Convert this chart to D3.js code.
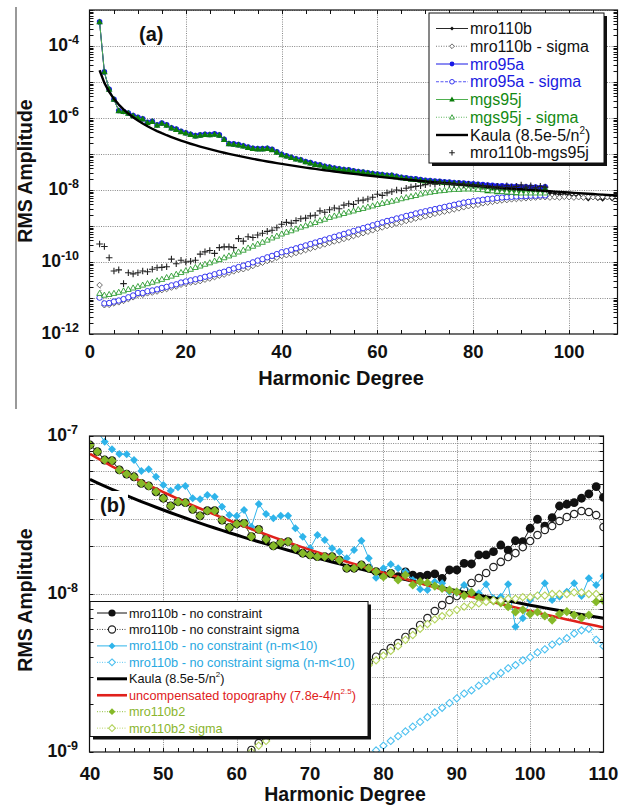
<!DOCTYPE html>
<html>
<head>
<meta charset="utf-8">
<script src="https://cdn.jsdelivr.net/npm/d3@7"></script>
<style>
  body { margin: 0; background: #fff; }
  svg { display: block; }
  text { font-family: "Liberation Sans", Arial, Helvetica, sans-serif; }
</style>
</head>
<body>
<svg id="chart" width="629" height="807"></svg>
<script>
// ---------------------------------------------------------------
// Gravity field degree spectra (RMS amplitude per harmonic degree)
// All series values are log10 of the RMS amplitude.
// ---------------------------------------------------------------

// Panel (a): degrees 2 .. 110
const aStart = 2;
const mro110b = [
  -3.34,-4.73,-5.21,-5.49,-5.80,-5.83,-5.87,-5.94,-5.99,-6.03,
  -6.13,-6.10,-6.20,-6.15,-6.20,-6.28,-6.32,-6.38,-6.42,-6.46,
  -6.50,-6.48,-6.46,-6.47,-6.45,-6.48,-6.60,-6.72,-6.73,-6.75,
  -6.78,-6.82,-6.85,-6.86,-6.86,-6.85,-6.88,-6.95,-7.02,-7.06,
  -7.10,-7.14,-7.17,-7.22,-7.25,-7.29,-7.31,-7.35,-7.37,-7.40,
  -7.42,-7.44,-7.45,-7.48,-7.50,-7.51,-7.53,-7.55,-7.57,-7.58,
  -7.60,-7.60,-7.63,-7.66,-7.68,-7.70,-7.71,-7.73,-7.75,-7.76,
  -7.77,-7.78,-7.79,-7.80,-7.81,-7.82,-7.83,-7.84,-7.86,-7.86,
  -7.89,-7.95,-7.93,-7.99,-7.96,-8.01,-7.98,-8.03,-8.00,-7.98,
  -8.03,-7.99,-8.02,-7.97,-8.08,-8.10,-8.12,-8.11,-8.14,-8.17,
  -8.15,-8.22,-8.25,-8.19,-8.24,-8.26,-8.21,-8.25,-8.20
];
const mro110bSigma = [
  -10.64,-11.20,-11.19,-11.15,-11.12,-11.08,-11.03,-10.98,-10.91,-10.91,
  -10.87,-10.85,-10.82,-10.78,-10.75,-10.71,-10.68,-10.63,-10.60,-10.57,
  -10.56,-10.53,-10.49,-10.46,-10.42,-10.38,-10.35,-10.30,-10.26,-10.22,
  -10.20,-10.16,-10.11,-10.06,-10.02,-9.97,-9.93,-9.88,-9.83,-9.81,
  -9.79,-9.75,-9.71,-9.67,-9.63,-9.59,-9.55,-9.51,-9.47,-9.43,
  -9.40,-9.36,-9.32,-9.28,-9.24,-9.20,-9.16,-9.12,-9.08,-9.04,
  -9.00,-8.97,-8.93,-8.90,-8.86,-8.83,-8.79,-8.76,-8.73,-8.70,
  -8.66,-8.63,-8.60,-8.57,-8.54,-8.51,-8.48,-8.45,-8.43,-8.41,
  -8.37,-8.35,-8.33,-8.31,-8.29,-8.28,-8.26,-8.25,-8.24,-8.23,
  -8.22,-8.21,-8.20,-8.20,-8.21,-8.20,-8.21,-8.19,-8.20,-8.21,
  -8.20,-8.21,-8.19,-8.20,-8.21,-8.19,-8.20,-8.21,-8.18
];
const mro95a = [
  -3.33,-4.72,-5.20,-5.48,-5.79,-5.82,-5.86,-5.93,-5.98,-6.02,
  -6.12,-6.09,-6.19,-6.14,-6.19,-6.27,-6.31,-6.37,-6.41,-6.45,
  -6.49,-6.47,-6.45,-6.46,-6.44,-6.47,-6.59,-6.71,-6.72,-6.74,
  -6.77,-6.81,-6.84,-6.85,-6.85,-6.84,-6.87,-6.94,-7.01,-7.05,
  -7.09,-7.13,-7.16,-7.21,-7.24,-7.28,-7.30,-7.34,-7.36,-7.39,
  -7.41,-7.43,-7.44,-7.47,-7.49,-7.50,-7.52,-7.54,-7.56,-7.57,
  -7.59,-7.59,-7.62,-7.65,-7.66,-7.68,-7.69,-7.71,-7.73,-7.74,
  -7.75,-7.76,-7.77,-7.78,-7.79,-7.80,-7.81,-7.82,-7.83,-7.84,
  -7.85,-7.86,-7.87,-7.88,-7.88,-7.89,-7.90,-7.90,-7.91,-7.91,
  -7.92,-7.92,-7.93,-7.91
];
const mro95aSigma = [
  -10.99,-11.15,-11.14,-11.10,-11.07,-11.03,-10.98,-10.93,-10.86,-10.86,
  -10.81,-10.79,-10.76,-10.72,-10.69,-10.65,-10.62,-10.57,-10.54,-10.51,
  -10.48,-10.45,-10.41,-10.38,-10.34,-10.30,-10.27,-10.22,-10.18,-10.14,
  -10.10,-10.06,-10.01,-9.96,-9.92,-9.87,-9.83,-9.78,-9.73,-9.70,
  -9.66,-9.62,-9.58,-9.54,-9.50,-9.46,-9.42,-9.38,-9.34,-9.30,
  -9.26,-9.22,-9.18,-9.14,-9.10,-9.06,-9.02,-8.98,-8.94,-8.90,
  -8.86,-8.83,-8.79,-8.76,-8.72,-8.69,-8.65,-8.62,-8.59,-8.56,
  -8.53,-8.50,-8.47,-8.44,-8.41,-8.38,-8.35,-8.33,-8.31,-8.29,
  -8.27,-8.25,-8.24,-8.22,-8.21,-8.20,-8.19,-8.18,-8.17,-8.17,
  -8.16,-8.16,-8.15,-8.15
];
const mgs95j = [
  -3.33,-4.72,-5.20,-5.48,-5.80,-5.82,-5.87,-5.94,-5.99,-6.03,
  -6.13,-6.10,-6.20,-6.15,-6.20,-6.28,-6.32,-6.38,-6.42,-6.46,
  -6.50,-6.48,-6.46,-6.47,-6.45,-6.48,-6.60,-6.72,-6.73,-6.75,
  -6.78,-6.82,-6.85,-6.86,-6.86,-6.85,-6.88,-6.95,-7.02,-7.06,
  -7.10,-7.14,-7.17,-7.22,-7.25,-7.29,-7.31,-7.35,-7.37,-7.40,
  -7.42,-7.44,-7.45,-7.48,-7.50,-7.51,-7.53,-7.55,-7.57,-7.58,
  -7.60,-7.60,-7.63,-7.66,-7.68,-7.70,-7.71,-7.73,-7.75,-7.76,
  -7.77,-7.78,-7.79,-7.80,-7.81,-7.82,-7.83,-7.84,-7.86,-7.86,
  -7.90,-8.02,-7.95,-8.05,-7.98,-8.06,-8.00,-8.08,-8.02,-7.98,
  -8.07,-7.99,-8.05,-7.96
];
const mgs95jSigma = [
  -10.87,-10.92,-10.90,-10.87,-10.84,-10.80,-10.76,-10.72,-10.68,-10.64,
  -10.60,-10.56,-10.52,-10.48,-10.43,-10.39,-10.34,-10.29,-10.24,-10.20,
  -10.15,-10.11,-10.06,-10.02,-9.97,-9.93,-9.88,-9.83,-9.78,-9.72,
  -9.67,-9.61,-9.56,-9.50,-9.45,-9.39,-9.33,-9.28,-9.22,-9.17,
  -9.13,-9.08,-9.03,-8.99,-8.94,-8.90,-8.85,-8.81,-8.76,-8.72,
  -8.69,-8.65,-8.61,-8.58,-8.54,-8.51,-8.47,-8.44,-8.40,-8.37,
  -8.34,-8.31,-8.28,-8.24,-8.21,-8.18,-8.15,-8.11,-8.08,-8.06,
  -8.04,-8.02,-8.01,-7.99,-7.98,-7.98,-7.97,-7.97,-7.97,-7.98,
  -7.99,-8.00,-8.02,-8.03,-8.04,-8.05,-8.06,-8.07,-8.08,-8.08,
  -8.08,-8.08,-8.08,-8.08
];
const mro110bMinusMgs95j = [
  -9.50,-9.57,-9.88,-10.25,-10.22,-10.60,-10.30,-10.33,-10.30,-10.25,
  -10.27,-10.20,-10.16,-10.15,-10.13,-9.92,-10.05,-9.95,-10.00,-9.98,
  -9.95,-9.78,-9.72,-9.68,-9.76,-9.60,-9.58,-9.58,-9.60,-9.35,
  -9.42,-9.30,-9.32,-9.25,-9.20,-9.15,-9.12,-9.05,-8.95,-8.90,
  -8.92,-8.85,-8.80,-8.78,-8.72,-8.70,-8.58,-8.62,-8.55,-8.50,
  -8.52,-8.42,-8.38,-8.40,-8.30,-8.28,-8.25,-8.20,-8.12,-8.15,
  -8.08,-8.05,-8.00,-8.02,-7.95,-7.92,-7.90,-7.88,-7.85,-7.82,
  -7.84,-7.80,-7.82,-7.83,-7.85,-7.82,-7.86,-7.84,-7.88,-7.86,
  -7.90,-7.88,-7.92,-7.90,-7.93,-7.88,-7.92,-7.90,-7.86,-7.92,
  -7.88,-7.94,-7.90,-7.92
];

// Panel (b): degrees 40 .. 110
const bStart = 40;
const noConstraint = [
  -7.057,-7.099,-7.152,-7.156,-7.215,-7.241,-7.258,-7.300,-7.316,-7.353,
  -7.394,-7.443,-7.416,-7.422,-7.464,-7.506,-7.473,-7.473,-7.532,-7.578,
  -7.557,-7.553,-7.637,-7.591,-7.654,-7.696,-7.675,-7.669,-7.711,-7.742,
  -7.753,-7.764,-7.764,-7.764,-7.785,-7.837,-7.837,-7.816,-7.837,-7.859,
  -7.880,-7.870,-7.890,-7.860,-7.880,-7.889,-7.880,-7.873,-7.901,-7.848,
  -7.848,-7.806,-7.810,-7.753,-7.753,-7.732,-7.690,-7.722,-7.663,-7.669,
  -7.584,-7.527,-7.570,-7.517,-7.443,-7.432,-7.422,-7.394,-7.367,-7.321,
  -7.388
];
const noConstraintSigmaStart = 62;
const noConstraintSigma = [
  -8.987,-8.943,-8.91,-8.87,-8.84,-8.80,-8.77,-8.73,-8.70,-8.66,
  -8.63,-8.59,-8.56,-8.52,-8.49,-8.46,-8.43,-8.397,-8.373,-8.342,
  -8.31,-8.272,-8.241,-8.196,-8.152,-8.108,-8.07,-8.038,-8.013,-7.975,
  -7.93,-7.899,-7.867,-7.829,-7.797,-7.766,-7.741,-7.703,-7.665,-7.627,
  -7.595,-7.57,-7.538,-7.513,-7.494,-7.475,-7.481,-7.50,-7.576
];
const lowOrderStart = 41;
const noConstraintLowOrder = [
  -6.97,-7.036,-7.084,-7.114,-7.116,-7.152,-7.222,-7.211,-7.258,-7.310,
  -7.346,-7.325,-7.316,-7.394,-7.40,-7.373,-7.384,-7.447,-7.500,-7.506,
  -7.468,-7.574,-7.430,-7.494,-7.521,-7.504,-7.504,-7.584,-7.637,-7.711,
  -7.627,-7.658,-7.711,-7.732,-7.774,-7.722,-7.663,-7.774,-7.897,-7.837,
  -7.812,-7.837,-7.859,-7.911,-7.970,-7.975,-7.922,-7.932,-7.985,-7.992,
  -7.943,-7.985,-7.996,-7.939,-8.027,-8.017,-7.939,-8.207,-8.154,-8.038,
  -8.013,-7.932,-8.038,-8.017,-7.985,-7.932,-8.013,-7.901,-7.943,-7.886
];
const lowOrderSigmaStart = 79;
const noConstraintLowOrderSigma = [
  -8.99,-8.96,-8.93,-8.90,-8.87,-8.84,-8.81,-8.78,-8.75,-8.72,
  -8.69,-8.66,-8.63,-8.61,-8.58,-8.55,-8.52,-8.50,-8.47,-8.45,
  -8.42,-8.40,-8.37,-8.35,-8.32,-8.30,-8.28,-8.25,-8.23,-8.22,
  -8.29,-8.33
];
const mro110b2 = [
  -7.057,-7.099,-7.152,-7.156,-7.215,-7.241,-7.258,-7.300,-7.316,-7.353,
  -7.394,-7.443,-7.416,-7.422,-7.464,-7.506,-7.473,-7.473,-7.532,-7.578,
  -7.557,-7.553,-7.637,-7.591,-7.654,-7.696,-7.675,-7.669,-7.711,-7.742,
  -7.753,-7.764,-7.764,-7.764,-7.785,-7.837,-7.837,-7.816,-7.837,-7.859,
  -7.891,-7.869,-7.911,-7.880,-7.943,-7.922,-7.930,-7.950,-7.964,-7.975,
  -7.987,-8.010,-7.990,-8.025,-8.038,-8.044,-8.057,-8.080,-8.114,-8.100,
  -8.127,-8.114,-8.139,-8.165,-8.127,-8.112,-8.133,-8.152,-8.133,-8.049,
  -8.043
];
const mro110b2SigmaStart = 62;
const mro110b2Sigma = [
  -9.00,-8.96,-8.93,-8.89,-8.86,-8.82,-8.79,-8.75,-8.72,-8.68,
  -8.65,-8.61,-8.58,-8.54,-8.51,-8.48,-8.45,-8.42,-8.39,-8.36,
  -8.33,-8.29,-8.26,-8.22,-8.19,-8.16,-8.14,-8.12,-8.10,-8.08,
  -8.07,-8.06,-8.05,-8.04,-8.04,-8.03,-8.03,-8.02,-8.02,-8.01,
  -8.01,-8.00,-8.00,-8.00,-7.99,-7.99,-8.00,-8.00,-8.01
];

// Reference power laws, with the coefficients given in the legends
const kaula = { coef: 8.5e-5, power: 2 };
const topography = { coef: 7.8e-4, power: 2.5 };

// Axis ticks
const aXTicks = [0, 20, 40, 60, 80, 100];
const aYLabelExps = [-12, -10, -8, -6, -4];
const bXTicks = [40, 50, 60, 70, 80, 90, 100, 110];
const bYLabelExps = [-9, -8, -7];

// ---------------------------------------------------------------
const svg = d3.select("#chart");

const toPoints = (start, logs) => logs.map((v, i) => ({ n: start + i, v: Math.pow(10, v) }));
const powerLaw = (law, n0, n1) => d3.range(n0, n1 + 1).map(n => ({ n, v: law.coef / Math.pow(n, law.power) }));

function markerPath(type, r) {
  switch (type) {
    case "circle": return d3.symbol(d3.symbolCircle, Math.PI * r * r)();
    case "diamond": return `M0,${-r}L${r},0L0,${r}L${-r},0Z`;
    case "triangle": return `M0,${-r}L${r * 0.95},${r * 0.7}L${-r * 0.95},${r * 0.7}Z`;
    case "plus": return `M${-r},0H${r}M0,${-r}V${r}`;
  }
  return "";
}

function drawSeries(g, x, y, pts, s) {
  if (s.line) {
    const line = d3.line().x(d => x(d.n)).y(d => y(d.v));
    g.append("path").datum(pts)
      .attr("d", line)
      .attr("fill", "none")
      .attr("stroke", s.line.color)
      .attr("stroke-width", s.line.width)
      .attr("stroke-dasharray", s.line.dash || null)
      .attr("stroke-linejoin", "round");
  }
  if (s.marker) {
    const p = markerPath(s.marker.type, s.marker.r);
    g.append("g").selectAll("path").data(pts).join("path")
      .attr("transform", d => `translate(${x(d.n)},${y(d.v)})`)
      .attr("d", p)
      .attr("fill", s.marker.fill)
      .attr("stroke", s.marker.stroke || "none")
      .attr("stroke-width", s.marker.sw || 1);
  }
}

function legendSample(g, x0, x1, yc, s) {
  if (s.line) {
    g.append("line").attr("x1", x0).attr("x2", x1).attr("y1", yc).attr("y2", yc)
      .attr("stroke", s.line.color).attr("stroke-width", s.line.width)
      .attr("stroke-dasharray", s.line.dash || null);
  }
  if (s.marker) {
    g.append("path").attr("transform", `translate(${(x0 + x1) / 2},${yc})`)
      .attr("d", markerPath(s.marker.type, s.legendR || s.marker.r))
      .attr("fill", s.marker.fill)
      .attr("stroke", s.marker.stroke || "none")
      .attr("stroke-width", s.marker.sw || 1);
  }
}

function powLabel(g, xPos, yPos, exp, size, supSize, anchor) {
  const t = g.append("text").attr("x", xPos).attr("y", yPos)
    .attr("text-anchor", anchor).attr("font-weight", "bold")
    .attr("font-size", size).attr("fill", "#111");
  t.append("tspan").text("10");
  t.append("tspan").attr("font-size", supSize).attr("dy", -Math.round(size * 0.42)).text(String(exp));
  return t;
}

function frameAndTicks(g, x, y, box, opts) {
  // inward ticks on all four sides
  const tk = g.append("g").attr("stroke", "#111").attr("stroke-width", 1);
  opts.xMinor.forEach(v => {
    const px = Math.round(x(v)) + 0.5;
    tk.append("line").attr("x1", px).attr("x2", px).attr("y1", box.b).attr("y2", box.b - 4);
    tk.append("line").attr("x1", px).attr("x2", px).attr("y1", box.t).attr("y2", box.t + 4);
  });
  opts.yMinor.forEach(v => {
    const py = Math.round(y(v)) + 0.5;
    tk.append("line").attr("x1", box.l).attr("x2", box.l + 4).attr("y1", py).attr("y2", py);
    tk.append("line").attr("x1", box.r).attr("x2", box.r - 4).attr("y1", py).attr("y2", py);
  });
  g.append("rect").attr("x", box.l).attr("y", box.t)
    .attr("width", box.r - box.l).attr("height", box.b - box.t)
    .attr("fill", "none").attr("stroke", "#111").attr("stroke-width", 1.2);
}

function grid(g, x, y, box, xs, ys) {
  const gg = g.append("g").attr("stroke", "#7a7a7a").attr("stroke-width", 0.9)
    .attr("stroke-dasharray", "1,1.3");
  xs.forEach(v => {
    const px = Math.round(x(v)) + 0.5;
    gg.append("line").attr("x1", px).attr("x2", px).attr("y1", box.t).attr("y2", box.b);
  });
  ys.forEach(v => {
    const py = Math.round(y(v)) + 0.5;
    gg.append("line").attr("x1", box.l).attr("x2", box.r).attr("y1", py).attr("y2", py);
  });
}

function legendBox(g, l, t, r, b) {
  g.append("rect").attr("x", l + 3).attr("y", t + 3).attr("width", r - l).attr("height", b - t).attr("fill", "#111");
  g.append("rect").attr("x", l).attr("y", t).attr("width", r - l).attr("height", b - t)
    .attr("fill", "#fff").attr("stroke", "#111").attr("stroke-width", 1);
}

// thin rule along the left margin
svg.append("line").attr("x1", 16).attr("x2", 16).attr("y1", 7).attr("y2", 409)
  .attr("stroke", "#777").attr("stroke-width", 1.5);

// =========================== Panel (a) ===========================
{
  const box = { l: 89.5, r: 617.5, t: 10, b: 334 };
  const x = d3.scaleLinear().domain([0, 110]).range([90, 617]);
  const y = d3.scaleLog().domain([1e-12, 1e-3]).range([334, 10]);
  const g = svg.append("g");

  svg.append("clipPath").attr("id", "clipA").append("rect")
    .attr("x", box.l).attr("y", box.t).attr("width", box.r - box.l).attr("height", box.b - box.t);

  const decades = d3.range(-12, -2).map(e => Math.pow(10, e));
  grid(g, x, y, box, [20, 40, 60, 80, 100], decades.slice(1));

  const minorY = [];
  d3.range(-12, -3).forEach(e => d3.range(1, 10).forEach(k => minorY.push(k * Math.pow(10, e))));
  minorY.push(1e-3);

  const series = [
    { pts: toPoints(aStart, mro110b), line: { color: "#111", width: 0.9 },
      marker: { type: "diamond", r: 2.4, fill: "#111" } },
    { pts: toPoints(aStart, mro110bSigma), line: { color: "#555", width: 0.8, dash: "1,1.5" },
      marker: { type: "diamond", r: 2.8, fill: "#fff", stroke: "#444", sw: 0.8 } },
    { pts: toPoints(aStart, mro95a), line: { color: "#1818e6", width: 1 },
      marker: { type: "circle", r: 2.8, fill: "#1818e6" } },
    { pts: toPoints(aStart, mro95aSigma), line: { color: "#2a2af0", width: 0.8, dash: "3,1.5" },
      marker: { type: "circle", r: 2.7, fill: "#fff", stroke: "#2323ee", sw: 0.9 } },
    { pts: toPoints(aStart, mgs95j), line: { color: "#4fb04f", width: 1 },
      marker: { type: "triangle", r: 3.5, fill: "#0c7d0c" } },
    { pts: toPoints(aStart, mgs95jSigma), line: { color: "#3aa53a", width: 0.8, dash: "1,1.5" },
      marker: { type: "triangle", r: 3, fill: "#fff", stroke: "#15901a", sw: 0.8 } },
    { pts: powerLaw(kaula, 2, 110), line: { color: "#000", width: 2.4 } },
    { pts: toPoints(aStart, mro110bMinusMgs95j),
      marker: { type: "plus", r: 3.3, fill: "none", stroke: "#222", sw: 1.1 } }
  ];
  const dg = g.append("g").attr("clip-path", "url(#clipA)");
  series.forEach(s => drawSeries(dg, x, y, s.pts, s));

  // panel tag
  g.append("text").attr("x", 139).attr("y", 41).attr("font-weight", "bold")
    .attr("font-size", 20).attr("fill", "#111").text("(a)");

  frameAndTicks(g, x, y, box, { xMinor: d3.range(5, 110, 5), yMinor: minorY });

  // tick labels
  aXTicks.forEach(v => g.append("text").attr("x", x(v)).attr("y", 358)
    .attr("text-anchor", "middle").attr("font-weight", "bold").attr("font-size", 18.5)
    .attr("fill", "#111").text(v));
  aYLabelExps.forEach(e => powLabel(g, 79, y(Math.pow(10, e)) + 5, e, 17.5, 12.5, "end"));

  // axis titles
  g.append("text").attr("x", 341).attr("y", 385).attr("text-anchor", "middle")
    .attr("font-weight", "bold").attr("font-size", 20).attr("fill", "#111").text("Harmonic Degree");
  g.append("text").attr("transform", "translate(32,171) rotate(-90)").attr("text-anchor", "middle")
    .attr("font-weight", "bold").attr("font-size", 19.5).attr("fill", "#111").text("RMS Amplitude");

  // legend
  const lg = g.append("g");
  legendBox(lg, 429, 13, 604, 163);
  const rows = [
    { s: series[0], text: "mro110b", color: "#111" },
    { s: series[1], text: "mro110b - sigma", color: "#111" },
    { s: series[2], text: "mro95a", color: "#1a1ae0" },
    { s: series[3], text: "mro95a - sigma", color: "#1a1ae0" },
    { s: series[4], text: "mgs95j", color: "#138a13" },
    { s: series[5], text: "mgs95j - sigma", color: "#138a13" },
    { s: series[6], text: "Kaula (8.5e-5/n", sup: "2", after: ")", color: "#111" },
    { s: series[7], text: "mro110b-mgs95j", color: "#111" }
  ];
  rows.forEach((row, i) => {
    const yc = 28.5 + i * 17.75;
    legendSample(lg, 436, 468, yc, Object.assign({}, row.s, { legendR: row.s.marker ? row.s.marker.r * 0.85 : 0 }));
    const t = lg.append("text").attr("x", 470).attr("y", yc + 5.5).attr("font-size", 16)
      .attr("fill", row.color).text(row.text);
    if (row.sup) {
      t.append("tspan").attr("font-size", 10).attr("dy", -7).text(row.sup);
      t.append("tspan").attr("dy", 7).text(row.after);
    }
  });
}

// =========================== Panel (b) ===========================
{
  const box = { l: 89.5, r: 603.5, t: 436, b: 752 };
  const x = d3.scaleLinear().domain([40, 110]).range([90, 603.5]);
  const y = d3.scaleLog().domain([1e-9, 1e-7]).range([752, 436]);
  const g = svg.append("g");

  svg.append("clipPath").attr("id", "clipB").append("rect")
    .attr("x", box.l).attr("y", box.t).attr("width", box.r - box.l).attr("height", box.b - box.t);

  const minorY = [];
  [-9, -8].forEach(e => d3.range(1, 10).forEach(k => minorY.push(k * Math.pow(10, e))));
  minorY.push(1e-7);
  grid(g, x, y, box, [50, 60, 70, 80, 90, 100], minorY.slice(1, -1));

  const cyan = "#2fb4ea", cyanLight = "#4cc0f0";
  const green = "#85b928", greenLight = "#b3d35c";
  const series = [
    { pts: toPoints(bStart, noConstraint), line: { color: "#111", width: 1 },
      marker: { type: "circle", r: 4.4, fill: "#111" } },
    { pts: toPoints(noConstraintSigmaStart, noConstraintSigma), line: { color: "#333", width: 0.9, dash: "1,1.5" },
      marker: { type: "circle", r: 3.7, fill: "#fff", stroke: "#222", sw: 1.2 } },
    { pts: toPoints(lowOrderStart, noConstraintLowOrder), line: { color: cyan, width: 1 },
      marker: { type: "diamond", r: 4, fill: cyan } },
    { pts: toPoints(lowOrderSigmaStart, noConstraintLowOrderSigma), line: { color: cyanLight, width: 0.9, dash: "1,1.5" },
      marker: { type: "diamond", r: 3.6, fill: "#fff", stroke: cyanLight, sw: 1.1 } },
    { pts: powerLaw(kaula, 40, 110), line: { color: "#000", width: 3 } },
    { pts: powerLaw(topography, 40, 110), line: { color: "#e0201b", width: 2.6 } },
    { pts: toPoints(bStart, mro110b2), line: { color: green, width: 0.9, dash: "1,1.5" },
      marker: { type: "diamond", r: 4.6, fill: green } },
    { pts: toPoints(mro110b2SigmaStart, mro110b2Sigma), line: { color: greenLight, width: 0.9, dash: "1,1.5" },
      marker: { type: "diamond", r: 3.6, fill: "#fff", stroke: greenLight, sw: 1.1 } }
  ];
  const dg = g.append("g").attr("clip-path", "url(#clipB)");
  series.forEach(s => drawSeries(dg, x, y, s.pts, s));

  // panel tag on a white patch
  g.append("rect").attr("x", 98).attr("y", 491).attr("width", 30).attr("height", 28).attr("fill", "#fff");
  g.append("text").attr("x", 100).attr("y", 512).attr("font-weight", "bold")
    .attr("font-size", 20).attr("fill", "#111").text("(b)");

  // legend
  const lg = g.append("g");
  legendBox(lg, 90, 601.5, 368, 736.5);
  const rows = [
    { s: series[0], text: "mro110b - no constraint", color: "#111" },
    { s: series[1], text: "mro110b - no constraint sigma", color: "#111" },
    { s: series[2], text: "mro110b - no constraint (n-m<10)", color: "#29a9e1" },
    { s: series[3], text: "mro110b - no constraint sigma (n-m<10)", color: "#29a9e1" },
    { s: series[4], text: "Kaula (8.5e-5/n", sup: "2", after: ")", color: "#111" },
    { s: series[5], text: "uncompensated topography (7.8e-4/n", sup: "2.5", after: ")", color: "#e0201b" },
    { s: series[6], text: "mro110b2", color: "#8ab52d" },
    { s: series[7], text: "mro110b2 sigma", color: "#8ab52d" }
  ];
  rows.forEach((row, i) => {
    const yc = 613 + i * 16.45;
    const r = row.s.marker ? (row.s.marker.type === "circle" ? 3.6 : 3.4) : 0;
    legendSample(lg, 97, 127, yc, Object.assign({}, row.s, { legendR: r }));
    const t = lg.append("text").attr("x", 129).attr("y", yc + 4.5).attr("font-size", 12.7)
      .attr("fill", row.color).text(row.text);
    if (row.sup) {
      t.append("tspan").attr("font-size", 8).attr("dy", -6).text(row.sup);
      t.append("tspan").attr("dy", 6).text(row.after);
    }
  });

  frameAndTicks(g, x, y, box, { xMinor: d3.range(42, 110, 2), yMinor: minorY });

  bXTicks.forEach(v => g.append("text").attr("x", x(v)).attr("y", 780)
    .attr("text-anchor", "middle").attr("font-weight", "bold").attr("font-size", 18.5)
    .attr("fill", "#111").text(v));
  bYLabelExps.forEach(e => powLabel(g, 78, y(Math.pow(10, e)) + 5, e, 17.5, 12.5, "end"));

  g.append("text").attr("x", 345).attr("y", 801).attr("text-anchor", "middle")
    .attr("font-weight", "bold").attr("font-size", 19.5).attr("fill", "#111").text("Harmonic Degree");
  g.append("text").attr("transform", "translate(32,600) rotate(-90)").attr("text-anchor", "middle")
    .attr("font-weight", "bold").attr("font-size", 19.5).attr("fill", "#111").text("RMS Amplitude");
}
</script>
</body>
</html>
